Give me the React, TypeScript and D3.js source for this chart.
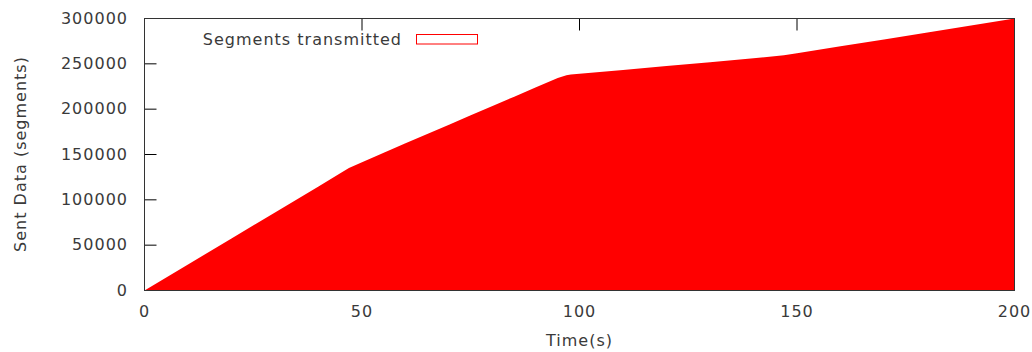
import React from "react";
import * as d3 from "d3";

const times = [0, 10, 20, 30, 40, 45, 47, 50, 55, 60, 65, 70, 75, 80, 85, 90, 95, 97, 98, 100, 110, 120, 130, 140, 147, 150, 160, 170, 180, 190, 200];
const segments = [0, 28700, 57400, 86000, 114800, 129200, 135000, 141500, 152000, 162300, 172600, 182900, 193200, 203500, 213800, 224100, 234300, 237500, 238200, 239000, 243300, 247600, 251800, 256100, 259500, 261700, 269300, 276900, 284500, 292200, 300000];
const xTicks = [0, 50, 100, 150, 200];
const yTicks = [0, 50000, 100000, 150000, 200000, 250000, 300000];
const seriesName = "Segments transmitted";
const xTitle = "Time(s)";
const yTitle = "Sent Data (segments)";

export default function App() {
  const W = 1032, H = 352;
  const left = 144.5, right = 1014.5, top = 18.5, bottom = 290.5;
  const x = d3.scaleLinear().domain([0, 200]).range([left, right]);
  const y = d3.scaleLinear().domain([0, 300000]).range([bottom, top]);
  const data = times.map((t, i) => ({ t, v: segments[i] }));
  const area = d3.area<{ t: number; v: number }>()
    .x(d => x(d.t))
    .y0(y(0))
    .y1(d => y(d.v));
  const font = "'DejaVu Sans', sans-serif";
  const txt = "#3a3a3a";
  const tick = 12;
  return (
    <svg width={W} height={H} style={{ position: "absolute", left: 0, top: 0, background: "#fff" }}
      fontFamily={font} fontSize={16}>
      {yTicks.map(v => (
        <g key={"y" + v}>
          <line x1={left} x2={left + tick} y1={y(v)} y2={y(v)} stroke="#000" strokeWidth={1} />
          <line x1={right} x2={right - tick} y1={y(v)} y2={y(v)} stroke="#000" strokeWidth={1} />
          <text x={128} y={y(v) + 5} textAnchor="end" fill={txt} letterSpacing={1}>{v}</text>
        </g>
      ))}
      {xTicks.map(v => (
        <g key={"x" + v}>
          <line x1={x(v)} x2={x(v)} y1={bottom} y2={bottom - tick} stroke="#000" strokeWidth={1} />
          <line x1={x(v)} x2={x(v)} y1={top} y2={top + tick} stroke="#000" strokeWidth={1} />
          <text x={x(v)} y={317} textAnchor="middle" fill={txt} letterSpacing={1}>{v}</text>
        </g>
      ))}
      <path d={area(data) || ""} fill="#ff0000" />
      <rect x={left} y={top} width={right - left} height={bottom - top} fill="none" stroke="#333" strokeWidth={1} />
      <text x={402} y={45} textAnchor="end" fill={txt} letterSpacing={1}>{seriesName}</text>
      <rect x={416.5} y={34.5} width={61} height={9.5} fill="none" stroke="#ff0000" strokeWidth={1} />
      <text x={(left + right) / 2} y={346} textAnchor="middle" fill={txt} letterSpacing={1}>{xTitle}</text>
      <text transform={`translate(26,154) rotate(-90)`} textAnchor="middle" fill={txt} letterSpacing={1}>{yTitle}</text>
    </svg>
  );
}
